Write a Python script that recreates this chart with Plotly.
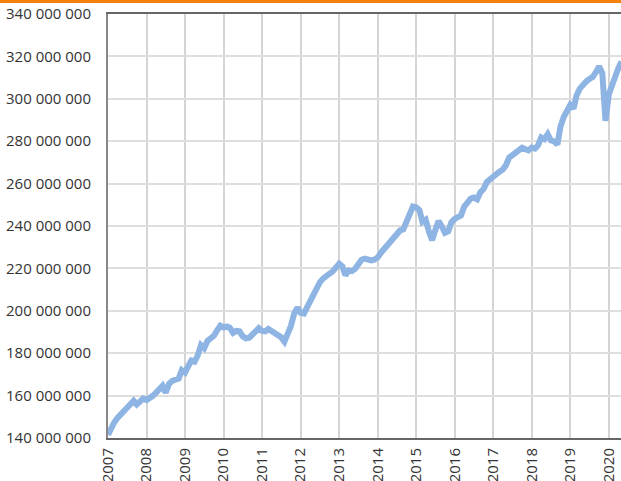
import plotly.graph_objects as go
import pandas as pd

# Monthly values (millions), Jan 2007 .. May 2020
values_m = [
    141.5, 145.0, 147.3, 149.5, 151.1, 152.7, 154.1, 155.6, 157.6, 155.8, 157.1, 158.6,
    157.9, 158.8, 159.9, 161.4, 163.5, 164.6, 161.3, 165.5, 167.0, 167.8, 168.0, 172.0,
    170.9, 174.0, 176.5, 176.0, 179.0, 183.8, 182.4, 185.8, 187.0, 188.2, 190.8, 193.0,
    192.1, 192.6, 192.0, 189.6, 190.5, 190.3, 188.0, 187.0, 187.3, 188.5, 190.3, 191.8,
    190.5, 190.3, 191.4, 190.5, 189.1, 188.3, 187.5, 185.5, 189.0, 192.8, 198.6, 201.5,
    199.0, 198.7, 201.5, 204.8, 207.5, 210.8, 213.4, 215.2, 216.8, 217.5, 218.6, 220.6,
    222.2, 220.9, 216.8, 219.0, 218.7, 219.8, 222.5, 224.1, 224.6, 224.1, 223.8, 224.1,
    225.2, 227.4, 229.0, 230.4, 232.0, 234.0, 235.8, 237.9, 238.4, 241.5, 246.0, 249.2,
    248.8, 247.5, 242.0, 243.0, 237.5, 233.3, 238.0, 242.4, 239.8, 236.8, 237.5, 241.8,
    243.3, 244.2, 245.0, 249.2, 251.6, 252.9, 253.4, 252.6, 255.9, 257.4, 260.8, 262.2,
    263.7, 264.6, 265.6, 266.6, 268.7, 272.3, 273.6, 274.5, 275.9, 276.9, 276.2, 275.7,
    277.0, 276.5, 278.0, 281.8, 281.0, 283.3, 280.4, 279.9, 278.4, 287.0, 291.5, 294.8,
    297.1, 295.4, 301.5, 304.8, 307.0, 308.2, 309.3, 310.3, 312.5, 315.3, 312.0, 289.6,
    302.0, 307.0, 310.5, 314.5, 317.5,
]
dates = pd.date_range("2007-01-01", periods=len(values_m), freq="MS")
values = [v * 1_000_000 for v in values_m]

years = list(range(2007, 2021))
year_ticks = [f"{y}-01-01" for y in years]
year_labels = [str(y) for y in years]

y_ticks = list(range(140_000_000, 340_000_001, 20_000_000))
y_labels = [f"{v:,}".replace(",", " ") for v in y_ticks]

fig = go.Figure()
fig.add_trace(go.Scatter(
    x=dates, y=values, mode="lines",
    line=dict(color="#8db4e3", width=6, shape="linear"),
    hoverinfo="skip",
))

fig.update_layout(
    width=621, height=481,
    margin=dict(l=108, r=0, t=14, b=43, autoexpand=False),
    paper_bgcolor="white", plot_bgcolor="white",
    showlegend=False,
    font=dict(family="Open Sans", size=15, color="#333333"),
    xaxis=dict(
        range=["2007-01-01", "2020-04-26"],
        tickmode="array", tickvals=year_ticks, ticktext=year_labels,
        tickangle=-90, automargin=False,
        showgrid=True, gridcolor="#d4d4d4", gridwidth=1.5,
        showline=True, linecolor="#666666", linewidth=2, mirror=True,
        ticks="", zeroline=False, ticklabelstandoff=2,
    ),
    yaxis=dict(
        range=[140_000_000, 340_000_000], automargin=False,
        tickmode="array", tickvals=y_ticks, ticktext=y_labels,
        showgrid=True, gridcolor="#dedede", gridwidth=1.5,
        showline=True, linecolor="#888888", linewidth=2,
        ticks="", zeroline=False, ticklabelstandoff=12,
    ),
    shapes=[dict(
        type="rect", xref="paper", yref="paper",
        x0=-1, x1=1.1, y0=(438 - 3) / 424, y1=(438 + 2) / 424,
        fillcolor="#f5820d", line=dict(width=0), layer="above",
    )],
)

fig.write_html(
    "out.html",
    config={"displayModeBar": False},
    post_script="document.body.style.margin='0';document.body.style.overflow='hidden';",
)
